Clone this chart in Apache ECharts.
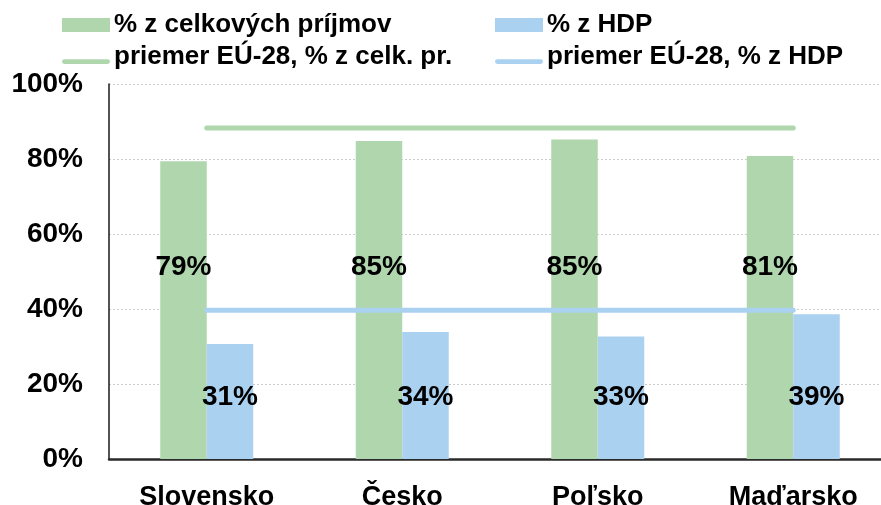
<!DOCTYPE html>
<html>
<head>
<meta charset="utf-8">
<script src="https://cdn.jsdelivr.net/npm/echarts@6/dist/echarts.min.js"></script>
<style>
html,body{margin:0;padding:0;background:#fff;}
#chart{width:881px;height:505px;}
</style>
</head>
<body>
<div id="chart"></div>
<script>
var categories = ['Slovensko', 'Česko', 'Poľsko', 'Maďarsko'];
var shareOfRevenue = [79.4, 84.8, 85.2, 80.8];
var shareOfGdp = [30.7, 33.9, 32.7, 38.6];
var euAvgRevenue = [88.3, 88.3, 88.3, 88.3];
var euAvgGdp = [39.7, 39.7, 39.7, 39.7];
var seriesNames = ['% z celkových príjmov', '% z HDP', 'priemer EÚ-28, % z celk. pr.', 'priemer EÚ-28, % z HDP'];

var GREEN = '#b0d6ae';
var BLUE = '#abd1f0';
var FONT = '"Liberation Sans", Arial, Helvetica, sans-serif';
var LINE_ICON = 'path://M0,0h0.01v0.01h-0.01z M2.5,9.5h45a2.5,2.5 0 0 1 0,5h-45a2.5,2.5 0 0 1 0,-5z';

var chart = echarts.init(document.getElementById('chart'), null, {renderer: 'canvas'});

function legend(name, left, top, icon) {
  return {
    data: [{name: name, icon: icon}], left: left, top: top,
    itemWidth: 48, itemHeight: 14, itemGap: 0,
    padding: 0,
    textStyle: {fontFamily: FONT, fontSize: 26, fontWeight: 'bold', color: '#000', padding: [0, 0, 0, -1]},
    selectedMode: false
  };
}

chart.setOption({
  animation: false,
  backgroundColor: '#fff',
  legend: [
    legend(seriesNames[0], 62, 12, 'rect'),
    legend(seriesNames[1], 495, 12, 'rect'),
    legend(seriesNames[2], 62, 44, LINE_ICON),
    legend(seriesNames[3], 495, 44, LINE_ICON)
  ],
  grid: {left: 109, top: 84, width: 782, height: 375, containLabel: false, outerBoundsMode: 'none'},
  xAxis: {
    type: 'category',
    data: categories,
    axisLine: {show: true, lineStyle: {color: '#2a2a2a', width: 2.5}},
    axisTick: {show: false},
    axisLabel: {fontFamily: FONT, fontSize: 27, fontWeight: 'bold', color: '#000', margin: 25},
    splitLine: {show: false}
  },
  yAxis: {
    type: 'value',
    min: 0, max: 100, interval: 20,
    axisLine: {show: true, lineStyle: {color: '#1a1a1a', width: 1.5}},
    axisTick: {show: false},
    axisLabel: {fontFamily: FONT, fontSize: 28, fontWeight: 'bold', color: '#000', margin: 26,
      formatter: function (v) { return v + '%'; }},
    splitLine: {show: true, lineStyle: {color: '#cccccc', type: [2, 2], width: 1}}
  },
  series: [
    {
      name: seriesNames[0], type: 'bar', data: shareOfRevenue,
      barWidth: 46.5, barGap: '0%',
      itemStyle: {color: GREEN},
      label: {show: true, position: 'insideBottom', distance: 178,
        fontFamily: FONT, fontSize: 28, fontWeight: 'bold', color: '#000',
        formatter: function (p) { return Math.round(p.value) + '%'; }},
      z: 2
    },
    {
      name: seriesNames[1], type: 'bar', data: shareOfGdp,
      barWidth: 46.5, barGap: '0%',
      itemStyle: {color: BLUE},
      label: {show: true, position: 'insideBottom', distance: 48,
        fontFamily: FONT, fontSize: 28, fontWeight: 'bold', color: '#000',
        formatter: function (p) { return Math.round(p.value) + '%'; }},
      z: 2
    },
    {
      name: seriesNames[2], type: 'line', data: euAvgRevenue,
      symbol: 'none', showSymbol: false,
      lineStyle: {color: GREEN, width: 5, cap: 'round'},
      itemStyle: {color: GREEN},
      z: 3
    },
    {
      name: seriesNames[3], type: 'line', data: euAvgGdp,
      symbol: 'none', showSymbol: false,
      lineStyle: {color: BLUE, width: 5, cap: 'round'},
      itemStyle: {color: BLUE},
      z: 3
    }
  ]
});
</script>
</body>
</html>
